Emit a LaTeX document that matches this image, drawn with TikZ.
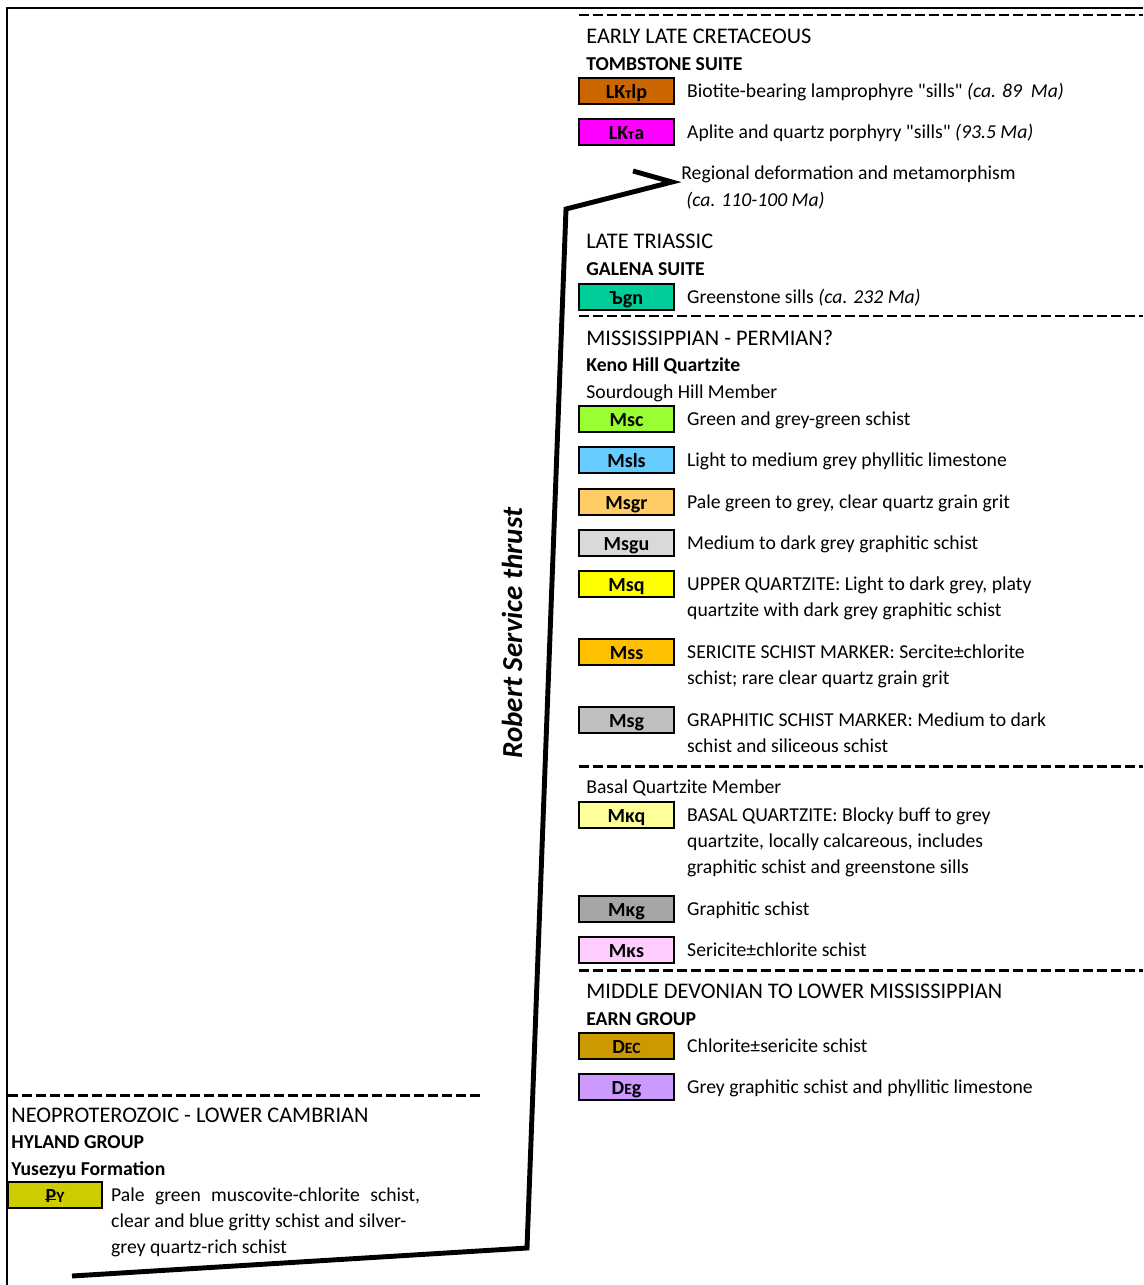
\documentclass[tikz,border=0pt]{standalone}
\usepackage{fontspec}
\setmainfont{Carlito}
\usepackage{tikz}
\usetikzlibrary{positioning}

\definecolor{cLKtlp}{HTML}{CC6600}
\definecolor{cLKta}{HTML}{FF00FF}
\definecolor{cTgn}{HTML}{00CC99}
\definecolor{cMsc}{HTML}{99FF33}
\definecolor{cMsls}{HTML}{66CCFF}
\definecolor{cMsgr}{HTML}{FFCC66}
\definecolor{cMsgu}{HTML}{D9D9D9}
\definecolor{cMsq}{HTML}{FFFF00}
\definecolor{cMss}{HTML}{FFC000}
\definecolor{cMsg}{HTML}{BFBFBF}
\definecolor{cMkq}{HTML}{FFFF99}
\definecolor{cMkg}{HTML}{A6A6A6}
\definecolor{cMks}{HTML}{FFCCFF}
\definecolor{cDec}{HTML}{CC9900}
\definecolor{cDeg}{HTML}{CC99FF}
\definecolor{cPy}{HTML}{CCCC00}

\newcommand{\smc}[1]{{\fontsize{8.9}{10}\selectfont #1}}
\newcommand{\era}[1]{{\fontsize{12.7}{15}\selectfont #1}}
\newcommand{\barp}{\ooalign{P\cr\hidewidth\rule[0.22ex]{0.55em}{0.13ex}\hidewidth\cr}}

\tikzset{
  unitbox/.style={draw=black, line width=1pt, minimum width=1.9cm, minimum height=0.52cm, inner sep=0pt,
    text height=0.95em, text depth=0.13em, font=\fontsize{11.4}{14}\selectfont\bfseries},
  desc/.style={anchor=base west, inner sep=0pt, align=left},
  contact/.style={line width=1.7pt, dash pattern=on 0.2cm off 0.08cm},
  thrust/.style={line width=2.8pt, line join=miter},
}

\begin{document}
\begin{tikzpicture}[x=0.02cm, y=-0.02cm, font=\fontsize{11.2}{15}\selectfont]
  \useasboundingbox (0,0) rectangle (1143,1285);
  \draw[line width=1.1pt] (7,1285) -- (7,8) -- (1143,8);
  \foreach \yy in {15, 316, 766, 970}
    \draw[contact] (579,\yy) -- (1143,\yy);
  \draw[contact] (8,1095) -- (483,1095);

  \node[desc] (cret) at (586,70) {\era{EARLY LATE CRETACEOUS}\\\textbf{TOMBSTONE SUITE}};
  \node[desc] (regdef) at (681,206) {Regional deformation and metamorphism\\\hspace{0.1cm}\textit{(ca. 110-100 Ma)}};
  \node[desc] (trias) at (586,275) {\era{LATE TRIASSIC}\\\textbf{GALENA SUITE}};
  \node[desc] (miss) at (586,398) {\era{MISSISSIPPIAN - PERMIAN?}\\\textbf{Keno Hill Quartzite}\\Sourdough Hill Member};
  \node[desc] (basal) at (586,793) {Basal Quartzite Member};
  \node[desc] (earn) at (586,1025) {\era{MIDDLE DEVONIAN TO LOWER MISSISSIPPIAN}\\\textbf{EARN GROUP}};
  \node[desc] (hyland) at (11,1175) {\era{NEOPROTEROZOIC - LOWER CAMBRIAN}\\\textbf{HYLAND GROUP}\\\textbf{Yusezyu Formation}};

  \foreach \yy/\col/\lab/\nm/\nl/\txt in {
      91/cLKtlp/{LK\smc{т}lp}/lktlp/0/{Biotite-bearing lamprophyre \textquotedbl sills\textquotedbl\ \textit{(ca. 89~ Ma)}},
      132/cLKta/{LK\smc{т}a}/lkta/0/{Aplite and quartz porphyry \textquotedbl sills\textquotedbl\ \textit{(93.5 Ma)}},
      297/cTgn/{Ъgn}/tgn/0/{Greenstone sills \textit{(ca. 232 Ma)}},
      419/cMsc/Msc/msc/0/{Green and grey-green schist},
      460/cMsls/Msls/msls/0/{Light to medium grey phyllitic limestone},
      502/cMsgr/Msgr/msgr/0/{Pale green to grey, clear quartz grain grit},
      543/cMsgu/Msgu/msgu/0/{Medium to dark grey graphitic schist},
      584/cMsq/Msq/msq/1/{UPPER QUARTZITE: Light to dark grey, platy\\quartzite with dark grey graphitic schist},
      652/cMss/Mss/mss/1/{SERICITE SCHIST MARKER: Sercite±chlorite\\schist; rare clear quartz grain grit},
      720/cMsg/Msg/msg/1/{GRAPHITIC SCHIST MARKER: Medium to dark\\schist and siliceous schist},
      815/cMkq/{Mκq}/mkq/2/{BASAL QUARTZITE: Blocky buff to grey\\quartzite, locally calcareous, includes\\graphitic schist and greenstone sills},
      909/cMkg/{Mκg}/mkg/0/{Graphitic schist},
      950/cMks/{Mκs}/mks/0/{Sericite±chlorite schist},
      1046/cDec/{D\smc{EC}}/dec/0/{Chlorite±sericite schist},
      1087/cDeg/{D\smc{E}g}/deg/0/{Grey graphitic schist and phyllitic limestone}}
  {
    \node[unitbox, fill=\col] (\nm) at (626.5,\yy) {\lab};
    \node[desc] (d\nm) at ([xshift=0.24cm, yshift={-0.12cm-\nl*15pt}]\nm.east) {\txt};
  }

  \node[unitbox, minimum width=1.88cm, fill=cPy] (py) at (55,1195) {\barp\smc{Y}};
  \node[desc] (dpy) at ([xshift=0.16cm, yshift={-0.12cm-30pt}]py.east)
    {\makebox[6.18cm][s]{Pale green muscovite-chlorite schist,}\\clear and blue gritty schist and silver-\\grey quartz-rich schist};

  \draw[thrust] (72,1276) -- (527,1248) -- (566,209) -- (672,182) -- (633,171);
  \node[rotate=90, font=\fontsize{16.5}{19}\selectfont\bfseries\itshape] (rst) at (512,633) {Robert Service thrust};
\end{tikzpicture}
\end{document}
